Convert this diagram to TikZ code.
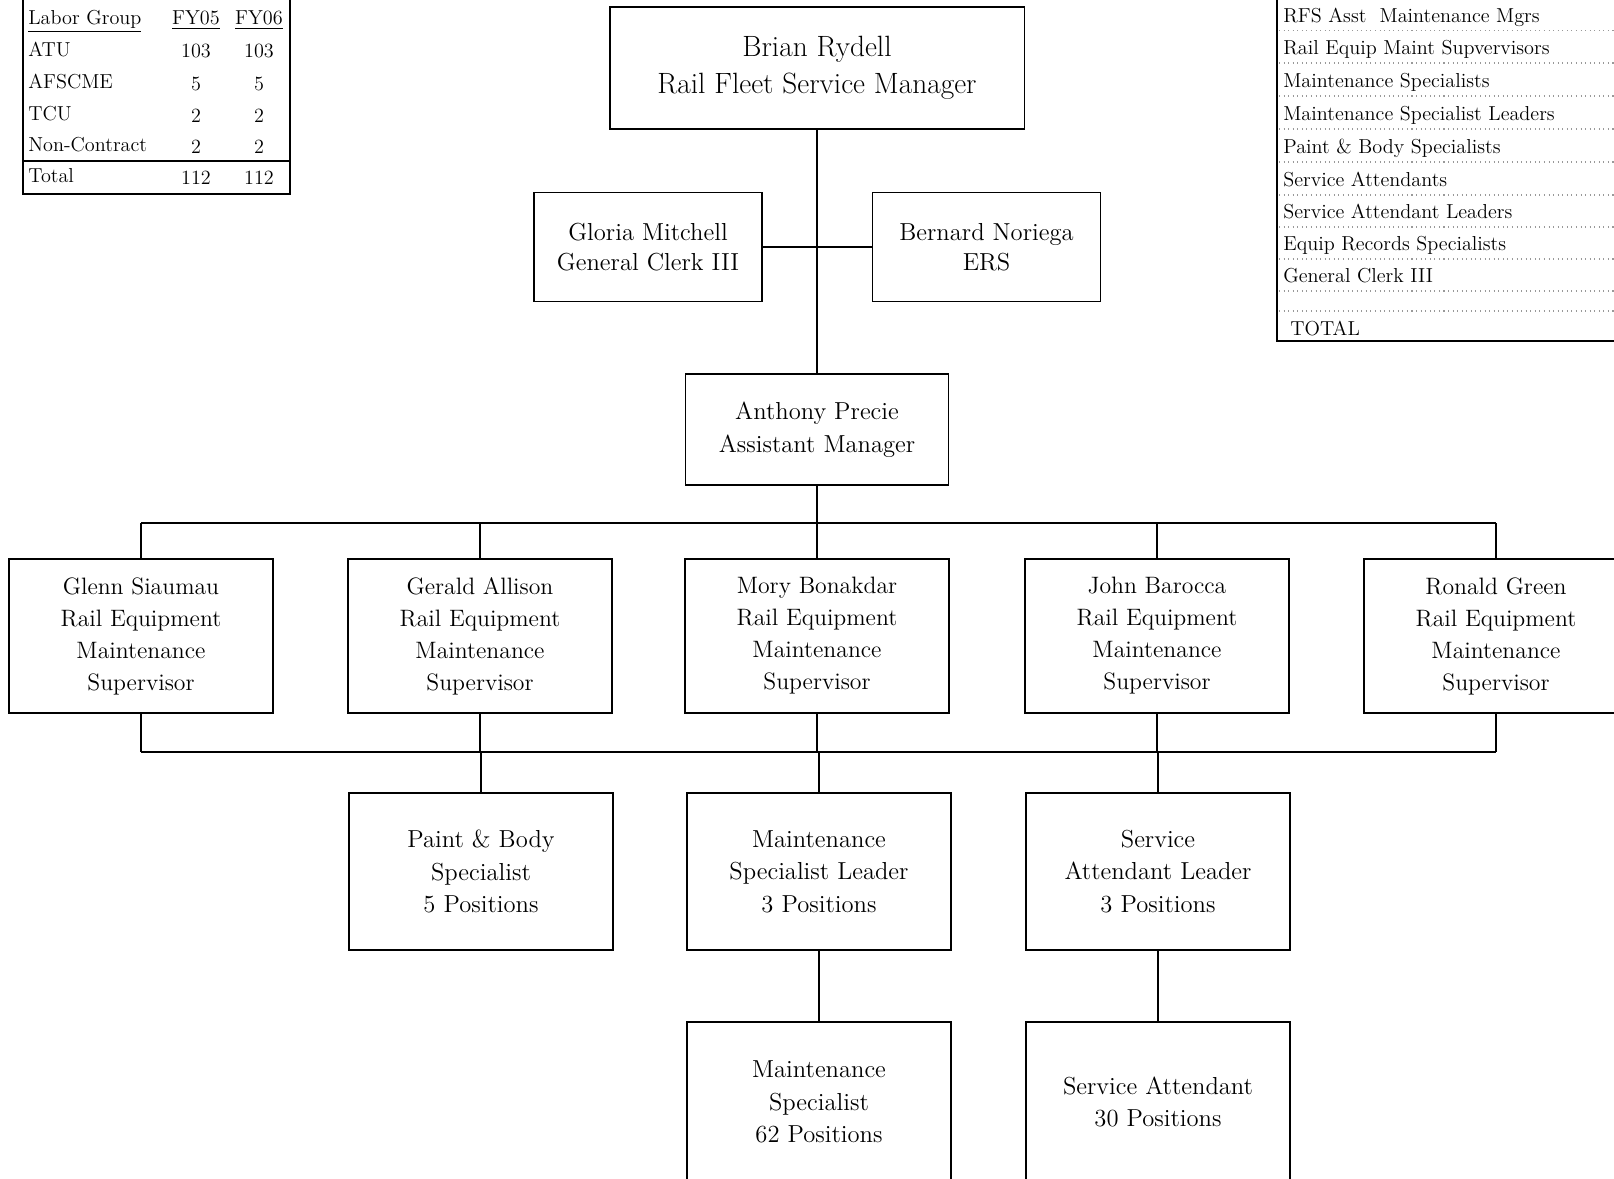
\documentclass[tikz,border=0pt]{standalone}
\usepackage{tikz}
\usetikzlibrary{calc}

\begin{document}
\begin{tikzpicture}[x=0.02cm,y=-0.02cm,
    posbox/.style={draw,line width=1.1pt,align=center,inner sep=0pt,
      minimum width=5.28cm,font=\fontsize{14}{18.5}\selectfont},
    mgr/.style={posbox,minimum width=8.3cm,minimum height=2.44cm,font=\fontsize{16.7}{21}\selectfont},
    aide/.style={posbox,minimum width=4.56cm,minimum height=2.18cm,font=\fontsize{14}{17}\selectfont},
    sup/.style={posbox,minimum height=3.08cm,font=\fontsize{13.5}{18.2}\selectfont},
    crew/.style={posbox,minimum height=3.14cm},
    conn/.style={line width=0.9pt},
    frame/.style={line width=1.1pt},
    tbl/.style={font=\fontsize{11.5}{13}\selectfont,inner sep=0pt,anchor=base},
    dots/.style={gray!80,line width=0.6pt,dotted}]
\useasboundingbox (0,0) rectangle (1614,1179);
\clip (0,0) rectangle (1614,1179);
% manager and staff
\node[mgr] (brian) at (817,68) {Brian Rydell\\Rail Fleet Service Manager};
\node[aide] (gloria) at (648,247) {Gloria Mitchell\\General Clerk III};
\node[aide] (bernard) at (986.5,247) {Bernard Noriega\\ERS};
\node[posbox,minimum width=5.26cm,minimum height=2.22cm] (anthony) at (817,429.5)
  {Anthony Precie\\Assistant Manager};
\draw[conn] (brian) -- (anthony);
\draw[conn] (gloria) -- (bernard);
% supervisors
\foreach \n/\x/\who in {glenn/141/Glenn Siaumau, gerald/480/Gerald Allison,
    mory/817/Mory Bonakdar, john/1157/John Barocca, ronald/1496/Ronald Green}
  \node[sup] (\n) at (\x,636) {\who\\Rail Equipment\\Maintenance\\Supervisor};
% crews
\node[crew] (paint) at (481,871.5) {Paint \& Body\\Specialist\\5 Positions};
\node[crew] (msl) at (819,871.5) {Maintenance\\Specialist Leader\\3 Positions};
\node[crew] (sal) at (1158,871.5) {Service\\Attendant Leader\\3 Positions};
\node[crew,minimum height=3.2cm] (ms) at (819,1102) {Maintenance\\Specialist\\62 Positions};
\node[crew,minimum height=3.2cm] (sa) at (1158,1102) {Service Attendant\\30 Positions};
% buses
\coordinate (topbus) at (0,523);
\coordinate (lowbus) at (0,752);
\draw[conn] (glenn.north |- topbus) -- (ronald.north |- topbus);
\foreach \n in {glenn,gerald,john,ronald}
  \draw[conn] (\n.north) -- (\n.north |- topbus);
\draw[conn] (anthony) -- (mory);
\draw[conn] (glenn.south |- lowbus) -- (ronald.south |- lowbus);
\foreach \n in {glenn,gerald,mory,john,ronald}
  \draw[conn] (\n.south) -- (\n.south |- lowbus);
\foreach \n in {paint,msl,sal}
  \draw[conn] (\n.north) -- (\n.north |- lowbus);
\draw[conn] (msl) -- (ms);
\draw[conn] (sal) -- (sa);
% labor group table
\draw[frame] (23,-5) -- (23,194) -- (290,194) -- (290,-5);
\draw[frame] (23,161) -- (290,161);
\node[tbl,anchor=base west] (lg) at (28,25) {\underline{Labor Group}};
\node[tbl] (fy5) at (196,25) {\underline{FY05}};
\node[tbl] (fy6) at (259,25) {\underline{FY06}};
\foreach \g/\a/\b/\y [count=\i] in {ATU/103/103/56.5, AFSCME/5/5/89, TCU/2/2/121,
    Non-Contract/2/2/152, Total/112/112/183} {
  \node[tbl,anchor=base west] (grp\i) at (28,\y) {\g};
  \node[tbl] (fa\i) at (196,\y+1.5) {\a};
  \node[tbl] (fb\i) at (259,\y+1.5) {\b};
}
% position count table
\draw[frame] (1277,-5) -- (1277,341) -- (1700,341);
\foreach \t/\y [count=\i] in {RFS Asst\ \ Maintenance Mgrs/22.5, Rail Equip Maint Supvervisors/55,
    Maintenance Specialists/88, Maintenance Specialist Leaders/121,
    Paint \& Body Specialists/154, Service Attendants/187, Service Attendant Leaders/219,
    Equip Records Specialists/251, General Clerk III/283} {
  \node[tbl,anchor=base west] (job\i) at (1283,\y) {\t};
  \draw[dots] (1279,\y+8) -- (1700,\y+8);
}
\draw[dots] (1279,311) -- (1700,311);
\node[tbl,anchor=base west] (tot) at (1290,336) {TOTAL};
\end{tikzpicture}
\end{document}
